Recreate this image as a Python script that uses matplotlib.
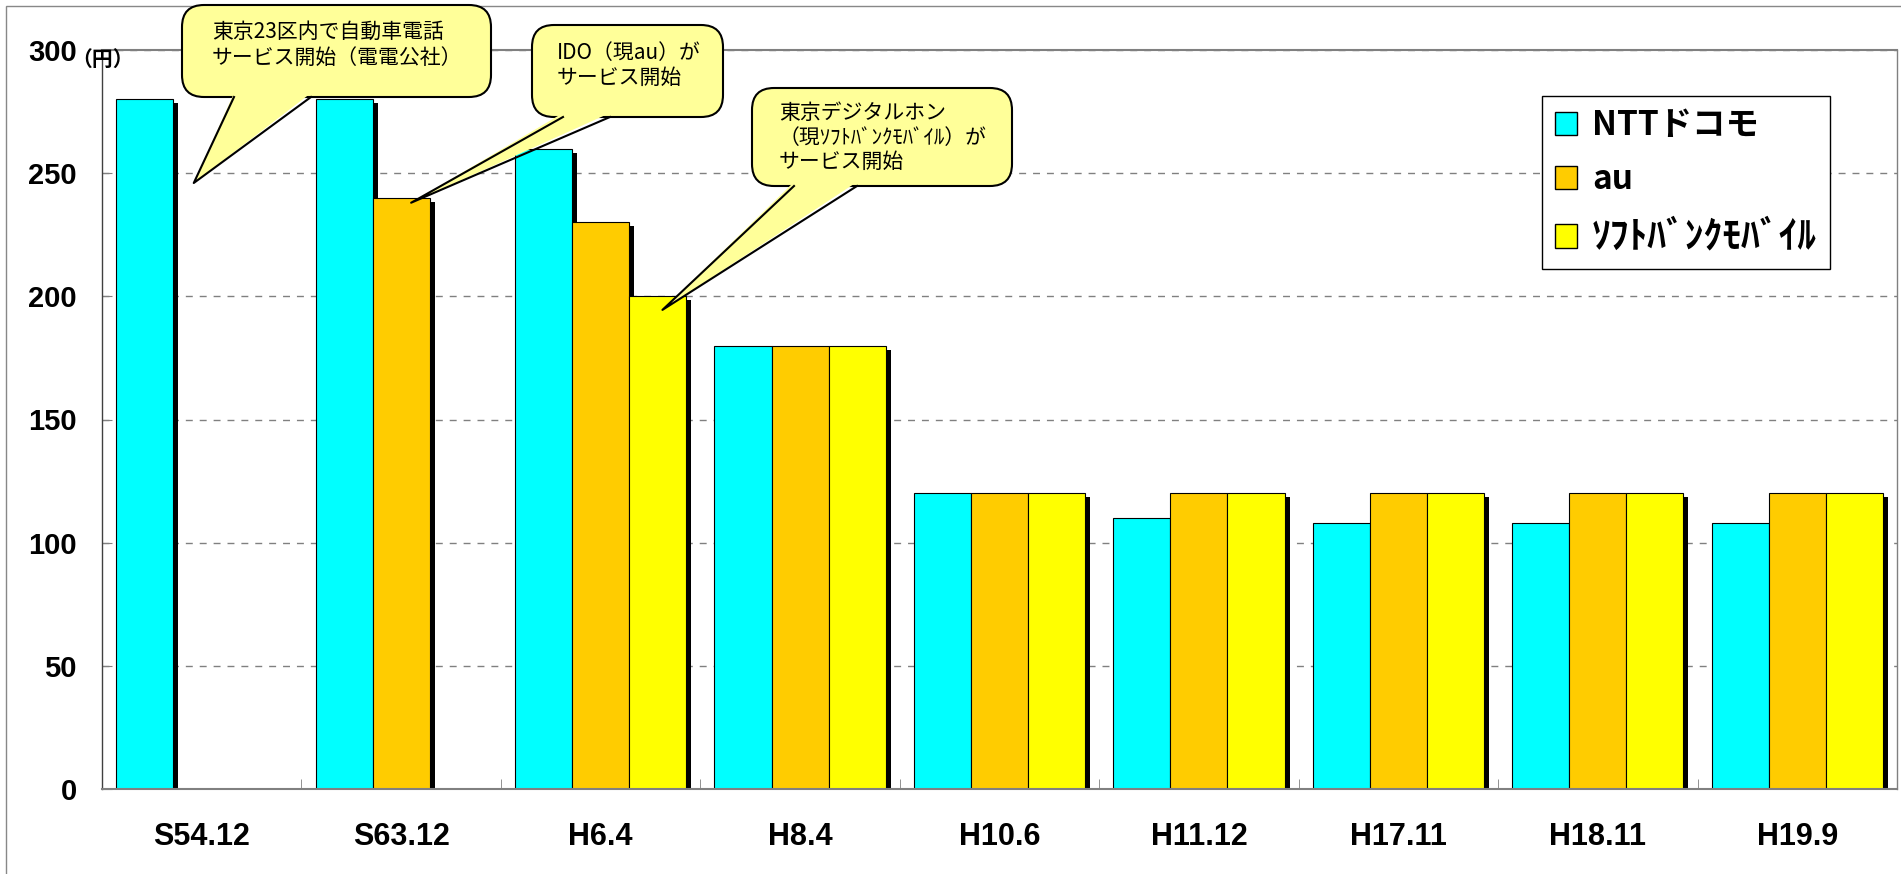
import numpy as np
import matplotlib
matplotlib.use('Agg')
import matplotlib.pyplot as plt
import matplotlib.patheffects as pe
from matplotlib.patches import FancyBboxPatch, Polygon, Patch, Rectangle
from matplotlib.lines import Line2D
from matplotlib.transforms import IdentityTransform

W, H = 1901, 874

# data (yen)
categories = ['S54.12', 'S63.12', 'H6.4', 'H8.4', 'H10.6', 'H11.12', 'H17.11', 'H18.11', 'H19.9']
docomo = [280, 280, 260, 180, 120, 110, 108, 108, 108]
au = [np.nan, 240, 230, 180, 120, 120, 120, 120, 120]
softbank = [np.nan, np.nan, 200, 180, 120, 120, 120, 120, 120]
series_names = ['NTTドコモ', 'au', 'ｿﾌﾄﾊﾞﾝｸﾓﾊﾞｲﾙ']
colors = ['#00FFFF', '#FFCC00', '#FFFF00']
y_ticks = [0, 50, 100, 150, 200, 250, 300]

# callout boxes: text lines, box in pixels (left, top, right, bottom), wedge base x, tip in data coords
callouts = [
    dict(lines=['東京23区内で自動車電話', 'サービス開始（電電公社）'],
         box=(182, 5, 491, 97), base=(234, 311), tip=(-0.04, 246), ys=[32, 58], xt=212),
    dict(lines=['IDO（現au）が', 'サービス開始'],
         box=(532, 25, 723, 117), base=(563, 610), tip=(1.05, 238), ys=[53, 78], xt=557),
    dict(lines=['東京デジタルホン', '（現ｿﾌﾄﾊﾞﾝｸﾓﾊﾞｲﾙ）が', 'サービス開始'],
         box=(752, 88, 1012, 186), base=(794, 857), tip=(2.31, 194.5), ys=[113, 138, 162], xt=779),
]

narrow = ['Liberation Sans Narrow', 'Liberation Sans', 'DejaVu Sans']
jp = ['Noto Sans CJK JP', 'DejaVu Sans']

fig = plt.figure(figsize=(W / 100, H / 100), dpi=100)
ax = fig.add_axes([102 / W, 85 / H, 1795 / W, 739 / H])

x = np.arange(len(categories))
bw = 0.286
shadow = [pe.SimplePatchShadow(offset=(3.6, -2.9), shadow_rgbFace='black', alpha=1.0), pe.Normal()]
for i, (vals, c) in enumerate(zip([docomo, au, softbank], colors)):
    ax.bar(x + (i - 1) * bw, vals, bw, color=c, edgecolor='black', linewidth=0.8,
           path_effects=shadow, zorder=2)

ax.set_xlim(-0.5, 8.5)
ax.set_ylim(0, 300)

ax.set_xticks(x, categories, fontsize=22, fontweight='bold', family=narrow)
ax.set_xticks(np.arange(0.5, 8, 1), minor=True)
ax.tick_params(axis='x', which='major', length=0, pad=24)
ax.tick_params(axis='x', which='minor', direction='in', length=7, color='#808080')

ax.set_yticks(y_ticks, [str(v) for v in y_ticks], fontsize=21, fontweight='bold',
              family=['Liberation Sans', 'DejaVu Sans'])
ax.tick_params(axis='y', direction='in', length=7, pad=18, color='#808080')

ax.yaxis.grid(True, linestyle=(0, (5, 5)), color='#808080', linewidth=1)
ax.set_axisbelow(True)

ax.spines['left'].set_color('#404040')
ax.spines['left'].set_linewidth(1)
for s in ['top', 'bottom']:
    ax.spines[s].set_color('#808080')
    ax.spines[s].set_linewidth(1.5)
ax.spines['right'].set_color('#808080')
ax.spines['right'].set_linewidth(1)

fig.text(71 / W, 1 - 59 / H, '（円）', fontsize=15, fontweight='bold', family=jp,
         ha='left', va='center')

# legend
handles = [Patch(facecolor=c, edgecolor='black', linewidth=1) for c in colors]
leg = ax.legend(handles, series_names, loc='upper left',
                bbox_to_anchor=(1542 / W, 1 - 96 / H), bbox_transform=fig.transFigure,
                prop=dict(family=jp, weight='bold', size=24),
                frameon=True, fancybox=False, edgecolor='black', framealpha=1,
                borderaxespad=0, borderpad=0.4, labelspacing=0.62,
                handlelength=0.65, handleheight=0.7, handletextpad=0.45)
leg.get_frame().set_linewidth(1.0)
leg.get_texts()[2].set_fontsize(27)

# outer chart border
fig.add_artist(Rectangle((6, -10), W + 10, H - 6 + 10, transform=IdentityTransform(),
                         fill=False, edgecolor='#888888', linewidth=1, zorder=0))

# speech-bubble callouts
bubble = '#FFFF99'
for co in callouts:
    x0, yt, x1, yb = co['box']
    tx, ty = ax.transData.transform(co['tip'])
    base_y = H - yb
    fig.add_artist(FancyBboxPatch((x0, base_y), x1 - x0, yb - yt,
                                  boxstyle='round,pad=0,rounding_size=22',
                                  transform=IdentityTransform(),
                                  facecolor=bubble, edgecolor='black', linewidth=1.5, zorder=6))
    bl, br = co['base']
    fig.add_artist(Polygon([(bl, base_y + 4), (tx, ty), (br, base_y + 4)],
                           closed=True, transform=IdentityTransform(),
                           facecolor=bubble, edgecolor='none', zorder=7))
    fig.add_artist(Line2D([bl, tx, br], [base_y, ty, base_y], color='black', linewidth=1.5,
                          transform=IdentityTransform(), zorder=8))
    for line, y in zip(co['lines'], co['ys']):
        fig.text(co['xt'] / W, 1 - y / H, line, fontsize=15, family=jp,
                 ha='left', va='center', zorder=9)

fig.savefig('out.png', dpi=100)
